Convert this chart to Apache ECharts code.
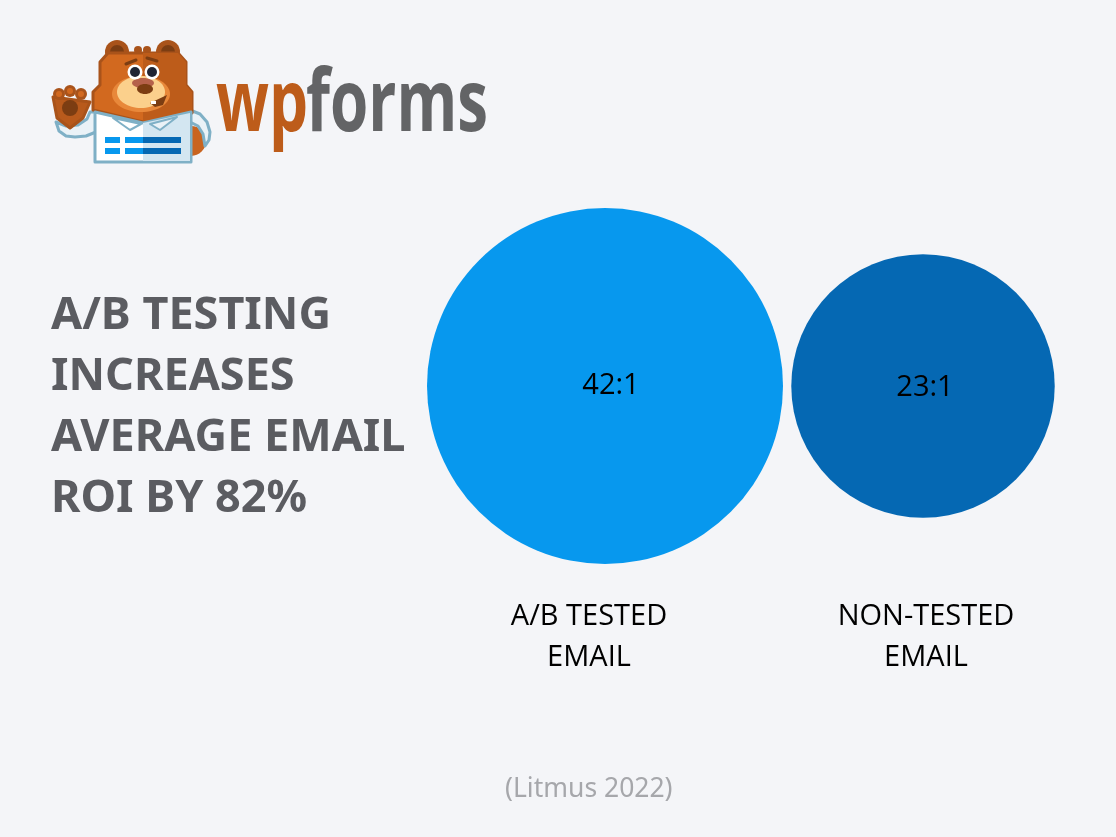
<!DOCTYPE html>
<html>
<head>
<meta charset="utf-8">
<title>A/B testing email ROI</title>
<script src="https://cdn.jsdelivr.net/npm/echarts@6/dist/echarts.min.js"></script>
<style>
html, body { margin: 0; padding: 0; background: #f4f5f8; }
#chartmain { width: 1116px; height: 837px; }
</style>
</head>
<body>
<div id="chartmain"></div>
<script>
var categories = ['A/B TESTED\nEMAIL', 'NON-TESTED\nEMAIL'];
var roiValues = [42, 23];
var roiLabels = ['42:1', '23:1'];
var circleColors = ['#0798ee', '#0568b3'];
var headline = 'A/B TESTING\nINCREASES\nAVERAGE EMAIL\nROI BY 82%';
var source = '(Litmus 2022)';

// circle area follows the ratio, 42 gives 356px across
var sizeScale = 356 / Math.sqrt(42);

var chart = echarts.init(document.getElementById('chartmain'));

// bear logo, plain shapes only
function bearLogo() {
    var brown = '#a9531a', orange = '#d2691f', dark = '#7c3d12', edge = '#7fb0c6';
    function circle(cx, cy, r, fill, stroke, lw) {
        return { type: 'circle', shape: { cx: cx, cy: cy, r: r }, style: { fill: fill, stroke: stroke, lineWidth: lw || 0 } };
    }
    function ellipse(cx, cy, rx, ry, fill) {
        return { type: 'ellipse', shape: { cx: cx, cy: cy, rx: rx, ry: ry }, style: { fill: fill } };
    }
    function poly(points, fill, stroke, lw) {
        return { type: 'polygon', shape: { points: points }, style: { fill: fill, stroke: stroke, lineWidth: lw || 0, lineJoin: 'round' } };
    }
    function rect(x, y, w, h, fill, r) {
        return { type: 'rect', shape: { x: x, y: y, width: w, height: h, r: r || 0 }, style: { fill: fill } };
    }
    return [
        // far arm
        circle(191, 141, 15, '#c9641f'),
        poly([[190, 110], [200, 114], [207, 122], [210, 132], [209, 140], [205, 146], [203, 134], [198, 126], [190, 122]], '#eaf2f7', edge, 3),
        // near sleeve
        poly([[56, 122], [59, 131], [66, 136], [75, 137], [86, 136], [96, 132], [96, 112], [90, 112], [87, 119], [78, 125], [66, 126]], '#eaf2f7', edge, 3),
        // ears
        circle(117, 52, 12, brown), circle(168, 52, 12, brown),
        circle(117, 52, 7, dark), circle(168, 52, 7, dark),
        circle(138, 50, 4, brown), circle(147, 50, 4, brown),
        // head
        poly([[100, 62], [108, 53], [178, 53], [186, 62], [186, 85], [192, 92], [192, 113], [143, 122], [93, 110], [93, 92], [100, 85]], orange, brown, 3),
        poly([[143, 53], [178, 53], [186, 62], [186, 85], [192, 92], [192, 113], [143, 122]], '#bd5c1a'),
        // muzzle
        ellipse(141, 94, 29, 18, '#e8883a'),
        ellipse(141, 92, 24, 16, '#fbd08c'),
        ellipse(143, 83, 11, 5, '#b5614a'),
        ellipse(145, 89, 8, 5, dark),
        poly([[150, 103], [167, 95], [163, 105], [155, 107]], dark),
        rect(151, 101, 5, 3, '#ffffff'),
        // brows and eyes
        { type: 'line', shape: { x1: 126, y1: 64, x2: 136, y2: 60 }, style: { stroke: dark, lineWidth: 3, lineCap: 'round' } },
        { type: 'line', shape: { x1: 147, y1: 58, x2: 157, y2: 61 }, style: { stroke: dark, lineWidth: 3, lineCap: 'round' } },
        circle(135, 72, 7.5, '#ffffff'), circle(152, 72, 7.5, '#ffffff'),
        circle(135, 72, 5, '#1f2433'), circle(152, 72, 5, '#1f2433'),
        // shirt
        poly([[95, 112], [143, 123], [191, 112], [191, 162], [95, 162]], '#ffffff', edge, 3),
        poly([[143, 123], [190, 113], [190, 161], [143, 161]], '#d3e6f1'),
        poly([[113, 118], [130, 130], [141, 124]], '#ffffff', edge, 2),
        poly([[177, 117], [160, 130], [150, 124]], '#eaf2f7', edge, 2),
        // shirt form lines
        rect(105, 137, 15, 6, '#0798ee'), rect(125, 137, 18, 6, '#0798ee'), rect(143, 137, 38, 6, '#0568b3'),
        rect(105, 148, 15, 6, '#0798ee'), rect(125, 148, 18, 6, '#0798ee'), rect(143, 148, 38, 6, '#0568b3'),
        // paw
        poly([[53, 97], [90, 102], [83, 118], [70, 128], [57, 118]], '#b85a1c', brown, 3),
        circle(59, 94, 6, brown), circle(70, 91, 6, brown), circle(81, 94, 6, brown),
        circle(59, 94, 3, orange), circle(70, 91, 3, orange), circle(81, 94, 3, orange),
        circle(70, 108, 8, dark)
    ];
}

chart.setOption({
    backgroundColor: '#f4f5f8',
    animation: false,
    title: [{
        text: headline,
        left: 46,
        top: 281,
        textStyle: { fontFamily: 'Noto Sans', fontWeight: 700, fontSize: 45, lineHeight: 61, color: '#5b5c61' }
    }, {
        text: source,
        left: 500,
        top: 768,
        textStyle: { fontFamily: 'Noto Sans', fontWeight: 400, fontSize: 26.5, lineHeight: 32, color: '#a6a7ab' }
    }],
    grid: { left: 446, width: 636, top: 172, height: 428 },
    xAxis: {
        type: 'category',
        data: [
            { value: categories[0], textStyle: { padding: [0, 32, 0, 0] } },
            { value: categories[1], textStyle: { padding: [0, 0, 0, 6] } }
        ],
        axisLine: { show: false },
        axisTick: { show: false },
        splitLine: { show: false },
        axisLabel: {
            interval: 0,
            margin: -4,
            fontFamily: 'Open Sans',
            fontSize: 29,
            lineHeight: 41,
            color: '#000000'
        }
    },
    yAxis: { type: 'category', data: ['ROI'], show: false },
    series: [{
        type: 'scatter',
        symbol: 'circle',
        silent: true,
        symbolSize: function (val) { return Math.sqrt(val[2]) * sizeScale; },
        data: categories.map(function (c, i) {
            return {
                value: [c, 'ROI', roiValues[i]],
                itemStyle: { color: circleColors[i], opacity: 1 },
                label: { formatter: roiLabels[i], offset: i === 0 ? [6, 0] : [2, 2] }
            };
        }),
        label: {
            show: true,
            position: 'inside',
            fontFamily: 'Open Sans',
            fontSize: 29,
            color: '#000000'
        }
    }],
    graphic: [{
        type: 'group',
        children: bearLogo().concat([{
            type: 'text', x: 216, y: 149, scaleX: 0.72,
            style: { text: 'wp', fontFamily: 'Open Sans', fontWeight: 700, fontSize: 86, fill: '#bd5c1a', verticalAlign: 'bottom' }
        }, {
            type: 'text', x: 306, y: 149, scaleX: 0.72,
            style: { text: 'forms', fontFamily: 'Open Sans', fontWeight: 700, fontSize: 86, fill: '#636466', verticalAlign: 'bottom' }
        }])
    }]
});
</script>
</body>
</html>
